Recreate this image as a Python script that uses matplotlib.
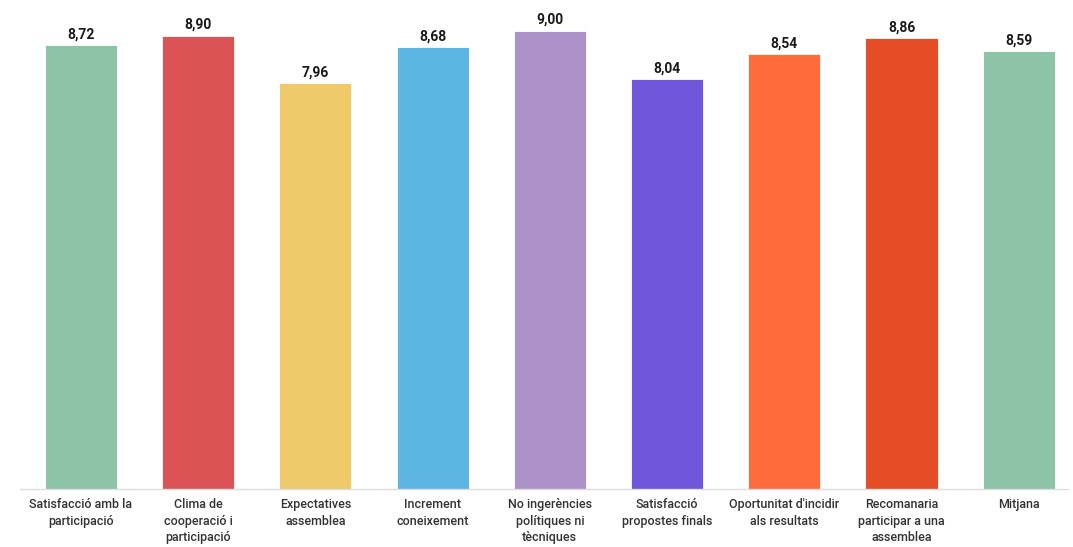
import matplotlib
matplotlib.use("Agg")
import matplotlib.pyplot as plt

categories = [
    "Satisfacció amb la\nparticipació",
    "Clima de\ncooperació i\nparticipació",
    "Expectatives\nassemblea",
    "Increment\nconeixement",
    "No ingerències\npolítiques ni\ntècniques",
    "Satisfacció\npropostes finals",
    "Oportunitat d'incidir\nals resultats",
    "Recomanaria\nparticipar a una\nassemblea",
    "Mitjana",
]
values = [8.72, 8.90, 7.96, 8.68, 9.00, 8.04, 8.54, 8.86, 8.59]
colors = ["#8DC3A7", "#DB5355", "#EECA6A", "#5DB5E3", "#AC91C8",
          "#6E55DA", "#FF6B3B", "#E44D26", "#8DC3A7"]

plt.rcParams['font.family'] = ['Roboto', 'DejaVu Sans']

fig = plt.figure(figsize=(10.73, 5.47), dpi=100)
ax = fig.add_axes([20 / 1073, 58.5 / 547, 1048 / 1073, 488.5 / 547])

x = range(len(values))
bars = ax.bar(x, values, width=0.615, color=colors, edgecolor="white", linewidth=0.6)

for xi, v in zip(x, values):
    ax.text(xi, v + 0.07, f"{v:.2f}".replace(".", ","), ha="center", va="bottom",
            fontsize=10, fontweight="bold", color="#1a1a1a")

ax.set_xlim(-0.52, 8.42)
ax.set_ylim(0, 9.6)
ax.set_xticks(list(x))
ax.set_xticklabels(categories, fontsize=9, color="#333333", fontweight="medium",
                   linespacing=1.35, va="top")
ax.tick_params(axis="x", length=0, pad=7)
ax.set_yticks([])
for s in ["top", "right", "left"]:
    ax.spines[s].set_visible(False)
ax.spines["bottom"].set_color("#dddddd")
ax.spines["bottom"].set_linewidth(1)

fig.savefig("out.png", dpi=100)
